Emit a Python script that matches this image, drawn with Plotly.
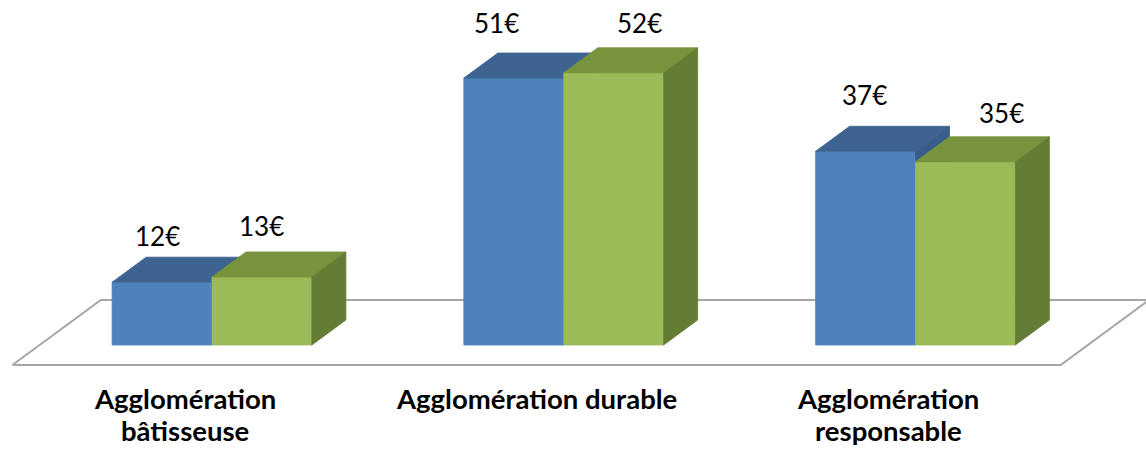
import plotly.graph_objects as go

# ---- data -------------------------------------------------------------
categories = ["Agglomération<br>bâtisseuse", "Agglomération durable", "Agglomération<br>responsable"]
series_blue = [12, 51, 37]
series_green = [13, 52, 35]
unit = "€"

# ---- oblique 3-D projection set-up (screen pixels) --------------------
W, H = 1146, 451
ORIGIN_X, ORIGIN_Y = 212.0, 345.0   # screen point of category 0, value 0, depth 0
PX_PER_CAT = 351.75
PX_PER_VAL = 5.235
DEPTH_DX, DEPTH_DY = 34.0, 25.0     # screen shift for one unit of depth
BAR_W = 0.284                       # bar width in category units
FLOOR_C = (-0.49, 2.49)
FLOOR_D = (-0.8, 1.8)

COLORS = {
    "blue": {"front": "#4F81BD", "top": "#3D6391", "side": "#385D8A"},
    "green": {"front": "#9BBB59", "top": "#77933C", "side": "#647D36"},
}
FLOOR_COLOR = "#A6A6A6"
FONT = "Lato"
CAT_FONT_SIZE = 27.5
CAT_TOP_GAP = 16       # px between floor front edge and first label line
CAT_LINE_STEP = 32     # px between label lines

# per-label nudges (px) for the value labels: (dx, dy above front top edge)
LABEL_NUDGE = {
    "blue": [(-5, 46), (-17, 55), (-1, 56)],
    "green": [(0, 51), (26, 50), (36, 49)],
}

x_range = [-ORIGIN_X / PX_PER_CAT, (W - ORIGIN_X) / PX_PER_CAT]
y_range = [-(H - ORIGIN_Y) / PX_PER_VAL, ORIGIN_Y / PX_PER_VAL]


def proj(c, v, d):
    """Map (category, value, depth) to axis coordinates."""
    return c + d * DEPTH_DX / PX_PER_CAT, v + d * DEPTH_DY / PX_PER_VAL


def poly(points, color, fill=True, width=0.8):
    xs, ys = zip(*[proj(*p) for p in points])
    xs = list(xs) + [xs[0]]
    ys = list(ys) + [ys[0]]
    return go.Scatter(
        x=xs, y=ys, mode="lines",
        fill="toself" if fill else None,
        fillcolor=color if fill else None,
        line=dict(color=color, width=width),
        hoverinfo="skip", showlegend=False,
    )


fig = go.Figure()

# floor plane
c0, c1 = FLOOR_C
d0, d1 = FLOOR_D
fig.add_trace(poly([(c0, 0, d0), (c1, 0, d0), (c1, 0, d1), (c0, 0, d1)],
                   FLOOR_COLOR, fill=False, width=2))


def add_box(x0, x1, v, pal):
    fig.add_trace(poly([(x0, 0, 0), (x1, 0, 0), (x1, v, 0), (x0, v, 0)], pal["front"]))
    fig.add_trace(poly([(x0, v, 0), (x1, v, 0), (x1, v, 1), (x0, v, 1)], pal["top"]))
    fig.add_trace(poly([(x1, 0, 0), (x1, 0, 1), (x1, v, 1), (x1, v, 0)], pal["side"]))


annotations = []
for i, cat in enumerate(categories):
    for name, vals, x0, x1 in (
        ("blue", series_blue, i - BAR_W, i),
        ("green", series_green, i, i + BAR_W),
    ):
        v = vals[i]
        add_box(x0, x1, v, COLORS[name])
        ndx, ndy = LABEL_NUDGE[name][i]
        annotations.append(dict(
            x=(x0 + x1) / 2, y=v, xref="x", yref="y",
            text=f"{v}{unit}", showarrow=False,
            xanchor="center", yanchor="middle",
            xshift=ndx, yshift=ndy,
            font=dict(family=FONT, size=26, color="#000000"),
        ))
    # category label sits at the front edge of the floor, one line at a time
    lx, ly = proj(i, 0, FLOOR_D[0])
    for k, line in enumerate(cat.split("<br>")):
        annotations.append(dict(
            x=lx, y=ly, xref="x", yref="y",
            text=f"<b>{line}</b>", showarrow=False,
            xanchor="center", yanchor="top",
            yshift=-(CAT_TOP_GAP + k * CAT_LINE_STEP), borderpad=0,
            font=dict(family=FONT, size=CAT_FONT_SIZE, color="#000000"),
        ))

fig.update_layout(
    width=W, height=H, autosize=False,
    margin=dict(l=0, r=0, t=0, b=0),
    paper_bgcolor="white", plot_bgcolor="white",
    showlegend=False,
    xaxis=dict(range=x_range, visible=False, fixedrange=True),
    yaxis=dict(range=y_range, visible=False, fixedrange=True),
    annotations=annotations,
)

fig.write_html("out.html")
